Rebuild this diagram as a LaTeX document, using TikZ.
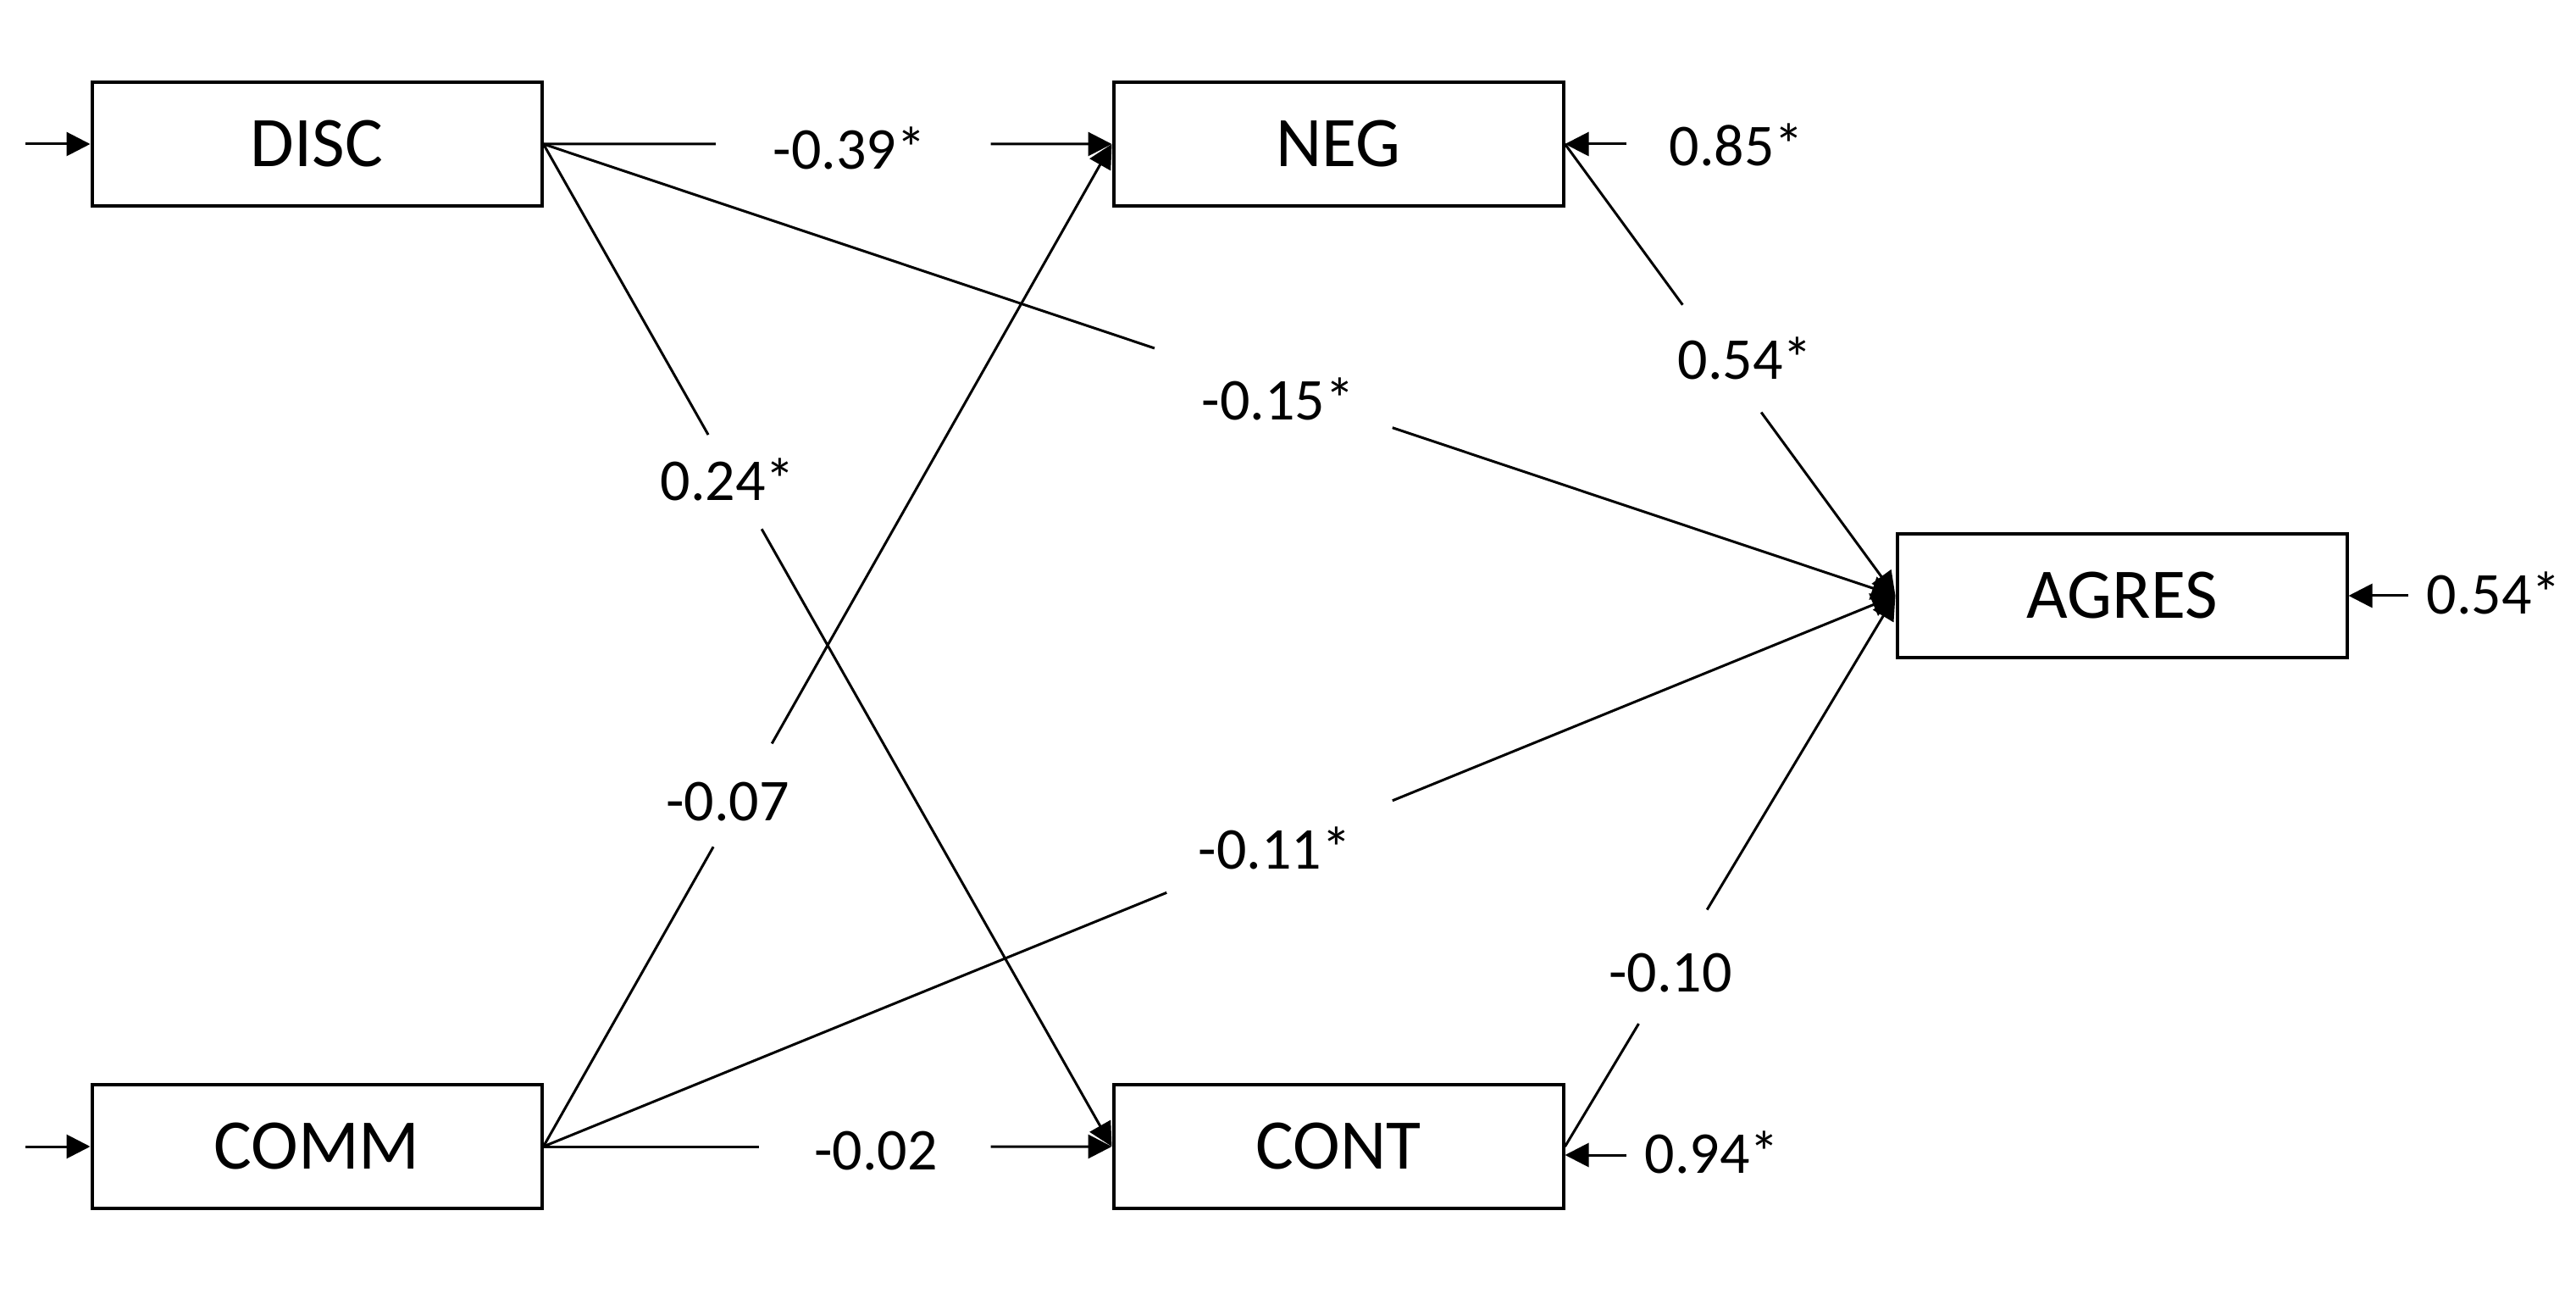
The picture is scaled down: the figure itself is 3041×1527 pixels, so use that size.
\documentclass[tikz,border=0pt]{standalone}
\usepackage{fontspec}
\setmainfont{Carlito}
\usetikzlibrary{arrows.meta,calc}
\begin{document}
\begin{tikzpicture}[x=0.25pt,y=-0.25pt,
  var/.style={draw,line width=1pt,minimum width=132.75pt,minimum height=36.5pt,inner sep=0pt,font=\fontsize{21}{25}\selectfont},
  lbl/.style={inner sep=0pt,font=\fontsize{17.5}{21}\selectfont},
  conn/.style={line width=0.75pt},
  conna/.style={line width=0.75pt,-{Triangle[length=7pt,width=7pt]}}]
\fill[white] (0,0) rectangle (3041,1527);
\useasboundingbox (0,0) rectangle (3041,1527);
% variables
\node[var] (disc) at (374,170) {DISC};
\node[var] (neg) at (1580,170) {NEG};
\node[var] (agres) at (2505,703) {AGRES};
\node[var] (comm) at (374,1353) {COMM};
\node[var] (cont) at (1580,1353) {CONT};
% labels
\node[lbl] (l1) at (1003,175) {-0.39*};
\node[lbl] (l2) at (1509,471) {-0.15*};
\node[lbl] (l3) at (859,566) {0.24*};
\node[lbl] (l4) at (859,946) {-0.07};
\node[lbl] (l5) at (1505,1001) {-0.11*};
\node[lbl] (l6) at (1034,1358) {-0.02};
\node[lbl] (l7) at (2060,423) {0.54*};
\node[lbl] (l8) at (1972,1148) {-0.10};
\node[lbl] (e1) at (2050,171) {0.85*};
\node[lbl] (e2) at (2944,700) {0.54*};
\node[lbl] (e3) at (2021,1360) {0.94*};
% DISC -> NEG
\draw[conn] (disc.east) -- ($(disc.east)!0.303!(neg.west)$);
\draw[conna] ($(disc.east)!0.787!(neg.west)$) -- (neg.west);
% DISC -> AGRES
\draw[conn] (disc.east) -- ($(disc.east)!0.452!(agres.west)$);
\draw[conna] ($(disc.east)!0.628!(agres.west)$) -- (agres.west);
% DISC -> CONT
\draw[conn] (disc.east) -- ($(disc.east)!0.29!(cont.west)$);
\draw[conna] ($(disc.east)!0.384!(cont.west)$) -- (cont.west);
% COMM -> NEG
\draw[conn] (comm.east) -- ($(comm.east)!0.299!(neg.west)$);
\draw[conna] ($(comm.east)!0.402!(neg.west)$) -- (neg.west);
% COMM -> AGRES
\draw[conn] (comm.east) -- ($(comm.east)!0.461!(agres.west)$);
\draw[conna] ($(comm.east)!0.628!(agres.west)$) -- (agres.west);
% COMM -> CONT
\draw[conn] (comm.east) -- ($(comm.east)!0.38!(cont.west)$);
\draw[conna] ($(comm.east)!0.787!(cont.west)$) -- (cont.west);
% NEG -> AGRES
\draw[conn] (neg.east) -- ($(neg.east)!0.356!(agres.west)$);
\draw[conna] ($(neg.east)!0.594!(agres.west)$) -- (agres.west);
% CONT -> AGRES
\draw[conn] (cont.east) -- ($(cont.east)!0.223!(agres.west)$);
\draw[conna] ($(cont.east)!0.43!(agres.west)$) -- (agres.west);
% error terms
\coordinate (ed) at (30,170);
\coordinate (ec) at (30,1353);
\coordinate (en) at (1920,170);
\coordinate (ea) at (2843,703);
\coordinate (et) at (1920,1363);
\draw[conna] (ed) -- (disc.west);
\draw[conna] (ec) -- (comm.west);
\draw[conna] (en) -- (neg.east);
\draw[conna] (ea) -- (agres.east);
\draw[conna] (et) -- ($(cont.east)+(0,10)$);
\end{tikzpicture}
\end{document}
